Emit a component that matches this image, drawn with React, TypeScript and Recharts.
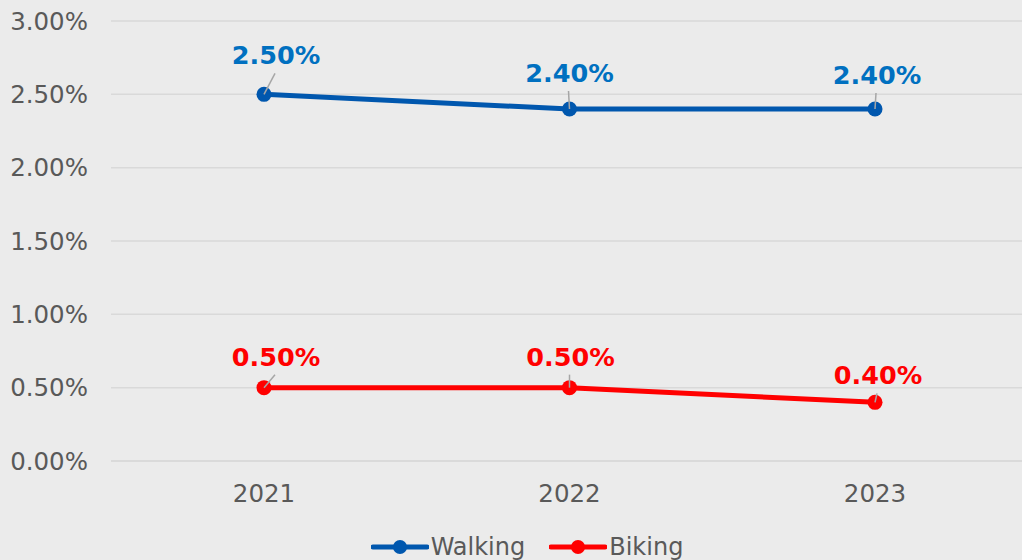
import React from "react";
import { LineChart, Line, XAxis, YAxis, CartesianGrid, Legend } from "recharts";

const years = ["2021", "2022", "2023"];
const walking = [0.025, 0.024, 0.024];
const biking = [0.005, 0.005, 0.004];
const yTicks = [0, 0.005, 0.01, 0.015, 0.02, 0.025, 0.03];
const seriesOrder = ["Walking", "Biking"];

const data = years.map((year, i) => ({
  year,
  Walking: walking[i],
  Biking: biking[i],
}));

const FONT = "Verdana, 'DejaVu Sans', sans-serif";
const WALK_LINE = "#0057ae";
const WALK_TEXT = "#0070c0";
const BIKE = "#ff0000";

// label offsets from each point (dx, dy), like the hand-placed excel labels
const walkOffsets: [number, number][] = [[12, -39], [0, -36], [2, -34]];
const bikeOffsets: [number, number][] = [[12, -31], [1, -31], [3, -27]];

const pct = (v: number) => `${(v * 100).toFixed(2)}%`;

const makeLabel = (color: string, offsets: [number, number][]) => (props: any) => {
  const { x, y, value, index } = props;
  const [dx, dy] = offsets[index] || [0, -30];
  const lx = x + dx;
  const ly = y + dy;
  return (
    <g>
      <line x1={x} y1={y} x2={lx - 1} y2={ly + 18} stroke="#a6a6a6" strokeWidth={1.5} />
      <text
        x={lx}
        y={ly}
        textAnchor="middle"
        dominantBaseline="central"
        fill={color}
        fontWeight="bold"
        fontSize={25.5}
        fontFamily={FONT}
      >
        {pct(value)}
      </text>
    </g>
  );
};

const LegendContent = (props: any) => {
  const items = [...(props.payload || [])].sort(
    (a: any, b: any) => seriesOrder.indexOf(a.value) - seriesOrder.indexOf(b.value)
  );
  return (
    <div
      style={{
        display: "flex",
        justifyContent: "center",
        paddingLeft: 25,
        paddingTop: 3,
        width: 1028,
        fontFamily: FONT,
        fontSize: 24,
        color: "#595959",
      }}
    >
      {items.map((it: any) => (
        <div key={it.value} style={{ display: "flex", alignItems: "center", marginRight: 24 }}>
          <svg width={58} height={20} style={{ marginRight: 2 }}>
            <line x1={2} y1={10} x2={56} y2={10} stroke={it.color} strokeWidth={5} strokeLinecap="round" />
            <circle cx={29} cy={10} r={7} fill={it.color} />
          </svg>
          <span>{it.value}</span>
        </div>
      ))}
    </div>
  );
};

export default function App() {
  return (
    <div
      style={{
        position: "absolute",
        left: 0,
        top: 0,
        width: 1022,
        height: 560,
        overflow: "hidden",
        background: "#ebebeb",
      }}
    >
      <LineChart width={1028} height={560} data={data} margin={{ top: 21, right: 0, bottom: 0, left: 0 }}>
        <CartesianGrid vertical={false} stroke="#d9d9d9" strokeWidth={1.5} />
        <XAxis
          dataKey="year"
          padding={{ left: 153, right: 153 }}
          axisLine={{ stroke: "#d9d9d9", strokeWidth: 1.5 }}
          tickLine={false}
          tickSize={0}
          tickMargin={24}
          height={69}
          tick={{ fill: "#595959", fontSize: 24.5, fontFamily: FONT }}
        />
        <YAxis
          domain={[0, 0.03]}
          ticks={yTicks}
          tickFormatter={pct}
          axisLine={false}
          tickLine={false}
          tickSize={0}
          tickMargin={23}
          width={111}
          tick={{ fill: "#595959", fontSize: 24.5, fontFamily: FONT }}
        />
        <Legend verticalAlign="bottom" height={30} content={<LegendContent />} />
        <Line
          dataKey="Walking"
          stroke={WALK_LINE}
          strokeWidth={5}
          dot={{ r: 7.5, fill: WALK_LINE, stroke: WALK_LINE, strokeWidth: 0 }}
          label={makeLabel(WALK_TEXT, walkOffsets)}
          isAnimationActive={false}
        />
        <Line
          dataKey="Biking"
          stroke={BIKE}
          strokeWidth={5}
          dot={{ r: 7.5, fill: BIKE, stroke: BIKE, strokeWidth: 0 }}
          label={makeLabel(BIKE, bikeOffsets)}
          isAnimationActive={false}
        />
      </LineChart>
    </div>
  );
}
